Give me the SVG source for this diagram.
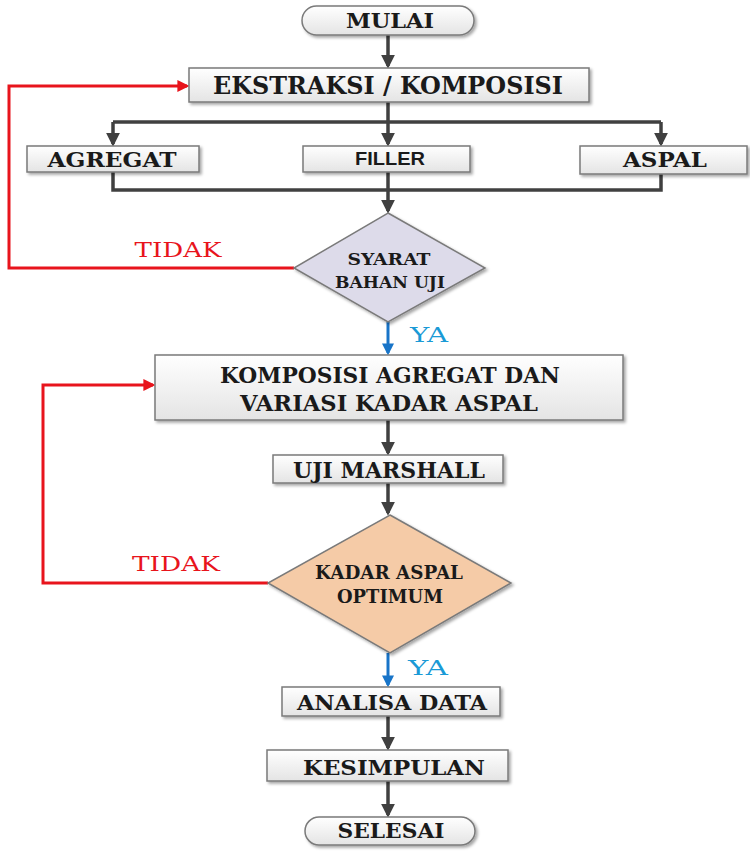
<svg xmlns="http://www.w3.org/2000/svg" width="750" height="851" viewBox="0 0 750 851">
<defs>
<linearGradient id="g" x1="0" y1="0" x2="0" y2="1">
<stop offset="0" stop-color="#ffffff"/><stop offset="1" stop-color="#e4e4e4"/>
</linearGradient>
<filter id="sh" x="-10%" y="-20%" width="120%" height="150%">
<feDropShadow dx="2" dy="2" stdDeviation="1.5" flood-color="#000" flood-opacity="0.35"/>
</filter>
<marker id="ad" markerWidth="4" markerHeight="4" refX="3.2" refY="2" orient="auto" markerUnits="strokeWidth">
<path d="M0,0 L4,2 L0,4 Z" fill="#404040"/>
</marker>
<marker id="ar" markerWidth="4" markerHeight="4" refX="3.2" refY="2" orient="auto" markerUnits="strokeWidth">
<path d="M0,0 L4,2 L0,4 Z" fill="#e8141c"/>
</marker>
<marker id="ab" markerWidth="4" markerHeight="4" refX="3.2" refY="2" orient="auto" markerUnits="strokeWidth">
<path d="M0,0 L4,2 L0,4 Z" fill="#1874c8"/>
</marker>
</defs>
<style>
.box{fill:url(#g);stroke:#7a7a7a;stroke-width:1.5;filter:url(#sh)}
.t{font-family:'DejaVu Serif','Liberation Serif',serif;font-weight:bold;fill:#1a1a1a;text-anchor:middle}
.s{font-family:'Liberation Sans',Arial,sans-serif;font-weight:bold;fill:#1a1a1a;text-anchor:middle}
.c{fill:none;stroke:#404040;stroke-width:3.5}
.r{fill:none;stroke:#e8141c;stroke-width:3}
.b{fill:none;stroke:#1874c8;stroke-width:3}
.lr{font-family:'DejaVu Serif','Liberation Serif',serif;fill:#e8141c;font-size:21px;text-anchor:middle}
.lb{font-family:'DejaVu Serif','Liberation Serif',serif;fill:#1a9ad6;font-size:21px;text-anchor:middle}
</style>
<g id="connectors">
<path class="c" d="M388,35 V66" marker-end="url(#ad)"/>
<path class="c" d="M388,102 V122 M113,122 H661"/>
<path class="c" d="M113,122 V144" marker-end="url(#ad)"/>
<path class="c" d="M388,122 V144" marker-end="url(#ad)"/>
<path class="c" d="M661,122 V144" marker-end="url(#ad)"/>
<path class="c" d="M113,172 V190 H661 V174"/>
<path class="c" d="M388,172 V211" marker-end="url(#ad)"/>
<path class="r" d="M294,268 H9 V86 H187" marker-end="url(#ar)"/>
<path class="b" d="M388,322 V353" marker-end="url(#ab)"/>
<path class="c" d="M388,420 V453" marker-end="url(#ad)"/>
<path class="c" d="M388,483 V513" marker-end="url(#ad)"/>
<path class="r" d="M268,583 H43 V385 H153" marker-end="url(#ar)"/>
<path class="b" d="M388,653 V685" marker-end="url(#ab)"/>
<path class="c" d="M388,716 V748" marker-end="url(#ad)"/>
<path class="c" d="M388,781 V815" marker-end="url(#ad)"/>
</g>
<text class="lr" x="178" y="257" textLength="87" lengthAdjust="spacingAndGlyphs">TIDAK</text>
<text class="lb" x="429" y="342" textLength="38" lengthAdjust="spacingAndGlyphs">YA</text>
<text class="lr" x="176" y="571" textLength="88" lengthAdjust="spacingAndGlyphs">TIDAK</text>
<text class="lb" x="428" y="675" textLength="40" lengthAdjust="spacingAndGlyphs">YA</text>
<g id="mulai">
<rect class="box" x="302" y="6" width="172" height="29" rx="14.5"/>
<text class="t" x="390" y="28" font-size="20" textLength="88" lengthAdjust="spacingAndGlyphs">MULAI</text>
</g>
<g id="ekstraksi">
<rect class="box" x="189" y="68" width="400" height="34"/>
<text class="t" x="388" y="94" font-size="24" textLength="350" lengthAdjust="spacingAndGlyphs">EKSTRAKSI / KOMPOSISI</text>
</g>
<g id="agregat">
<rect class="box" x="27" y="146" width="172" height="26"/>
<text class="t" x="112" y="167" font-size="21" textLength="129" lengthAdjust="spacingAndGlyphs">AGREGAT</text>
</g>
<g id="filler">
<rect class="box" x="303" y="146" width="167" height="26"/>
<text class="s" x="390" y="165" font-size="18" textLength="70" lengthAdjust="spacingAndGlyphs">FILLER</text>
</g>
<g id="aspal">
<rect class="box" x="580" y="146" width="167" height="28"/>
<text class="t" x="665" y="167" font-size="21" textLength="84" lengthAdjust="spacingAndGlyphs">ASPAL</text>
</g>
<g id="syarat">
<polygon points="388,213 485,268 388,322 294,268" fill="#dddbea" stroke="#7a7a7a" stroke-width="1.5" filter="url(#sh)"/>
<text class="t" x="389" y="265" font-size="17" textLength="83" lengthAdjust="spacingAndGlyphs">SYARAT</text>
<text class="t" x="390" y="288" font-size="16" textLength="110" lengthAdjust="spacingAndGlyphs">BAHAN UJI</text>
</g>
<g id="komposisi">
<rect class="box" x="155" y="355" width="468" height="65"/>
<text class="t" x="390" y="383" font-size="23" textLength="340" lengthAdjust="spacingAndGlyphs">KOMPOSISI AGREGAT DAN</text>
<text class="t" x="389" y="411" font-size="23" textLength="298" lengthAdjust="spacingAndGlyphs">VARIASI KADAR ASPAL</text>
</g>
<g id="marshall">
<rect class="box" x="273" y="455" width="230" height="28"/>
<text class="t" x="389" y="478" font-size="22" textLength="192" lengthAdjust="spacingAndGlyphs">UJI MARSHALL</text>
</g>
<g id="kadar">
<polygon points="390,515 511,583 390,653 268,583" fill="#f5cba7" stroke="#7a7a7a" stroke-width="1.5" filter="url(#sh)"/>
<text class="t" x="389" y="579" font-size="19" textLength="148" lengthAdjust="spacingAndGlyphs">KADAR ASPAL</text>
<text class="t" x="390" y="603" font-size="19" textLength="106" lengthAdjust="spacingAndGlyphs">OPTIMUM</text>
</g>
<g id="analisa">
<rect class="box" x="282" y="687" width="218" height="29"/>
<text class="t" x="392" y="710" font-size="21" textLength="190" lengthAdjust="spacingAndGlyphs">ANALISA DATA</text>
</g>
<g id="kesimpulan">
<rect class="box" x="267" y="750" width="241" height="31"/>
<text class="t" x="394" y="775" font-size="21" textLength="182" lengthAdjust="spacingAndGlyphs">KESIMPULAN</text>
</g>
<g id="selesai">
<rect class="box" x="305" y="817" width="170" height="28" rx="14"/>
<text class="t" x="391" y="838" font-size="21" textLength="107" lengthAdjust="spacingAndGlyphs">SELESAI</text>
</g>
</svg>
